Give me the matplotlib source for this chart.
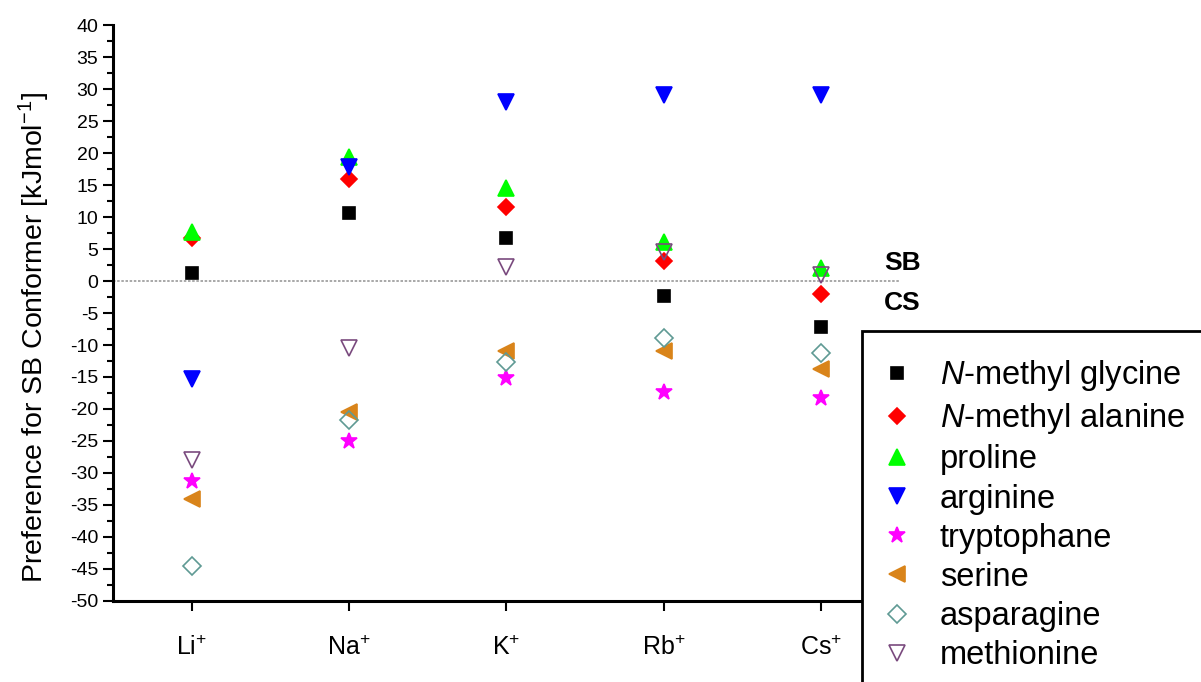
import numpy as np
import matplotlib
matplotlib.use("Agg")
import matplotlib.pyplot as plt
from matplotlib.patches import Rectangle
from matplotlib.ticker import MultipleLocator

plt.rcParams['font.family'] = ['Liberation Sans', 'DejaVu Sans']
plt.rcParams['mathtext.fontset'] = 'custom'
plt.rcParams['mathtext.rm'] = 'Liberation Sans'
plt.rcParams['mathtext.it'] = 'Liberation Sans:italic'
plt.rcParams['axes.unicode_minus'] = False

# cations on the x axis
cations = ["Li$^{+}$", "Na$^{+}$", "K$^{+}$", "Rb$^{+}$", "Cs$^{+}$"]

# preference for SB conformer, kJ/mol, one list per amino acid
n_methyl_glycine = [1.3, 10.7, 6.7, -2.4, -7.2]
n_methyl_alanine = [6.7, 15.9, 11.5, 3.1, -2.0]
proline = [7.6, 19.3, 14.6, 6.1, 2.0]
arginine = [-15.3, 17.8, 27.9, 29.1, 29.0]
tryptophane = [-31.2, -25.0, -15.2, -17.4, -18.3]
serine = [-34.0, -20.5, -11.0, -11.0, -13.7]
asparagine = [-44.6, -21.7, -12.7, -8.9, -11.3]
methionine = [-28.0, -10.5, 2.2, 4.6, 0.9]

x = np.arange(1, len(cations) + 1)

fig = plt.figure(figsize=(12.01, 6.82), dpi=100)
ax = fig.add_axes([0.094, 0.1188, 0.655, 0.8445])

ax.axhline(0, color="#9a9a9a", lw=1.2, ls=(0, (1.5, 1)), zorder=1)

# name, data, marker, size, face, edge
series = [
    ("$N$-methyl glycine", n_methyl_glycine, "s", 8.5, "black", "black"),
    ("$N$-methyl alanine", n_methyl_alanine, "D", 8.5, "#ff0000", "#ff0000"),
    ("proline", proline, "^", 11, "#00ff00", "#00ff00"),
    ("arginine", arginine, "v", 11, "#0000ff", "#0000ff"),
    ("tryptophane", tryptophane, "*", 12, "#ff00ff", "#ff00ff"),
    ("serine", serine, "<", 11, "#d9841a", "#d9841a"),
    ("asparagine", asparagine, "D", 9, "none", "#5f9a94"),
    ("methionine", methionine, "v", 11, "none", "#7a4a7e"),
]

handles = []
for name, vals, mk, ms, fc, ec in series:
    h, = ax.plot(x, vals, ls="none", marker=mk, ms=ms, mfc=fc, mec=ec,
                 mew=1.2, label=name, zorder=3)
    handles.append(h)

ax.set_xlim(0.5, 5.5)
ax.set_ylim(-50, 40)
ax.set_xticks(x)
ax.set_xticklabels(cations, fontsize=18)
ax.yaxis.set_major_locator(MultipleLocator(5))
ax.yaxis.set_minor_locator(MultipleLocator(2.5))
ax.tick_params(axis="y", labelsize=14, direction="out", length=7, width=1.5)
ax.tick_params(axis="y", which="minor", direction="out", length=4, width=1.5)
ax.tick_params(axis="x", direction="out", length=7, width=1.5, pad=18)
ax.spines["top"].set_visible(False)
ax.spines["right"].set_visible(False)
ax.spines["left"].set_linewidth(2.2)
ax.spines["bottom"].set_linewidth(2.2)
ax.set_ylabel("Preference for SB Conformer [kJmol$^{-1}$]", fontsize=20.5)
ax.yaxis.set_label_coords(-0.078, 0.458)

fig.text(884 / 1201, 1 - 263 / 682, "SB", fontsize=19, fontweight="bold", va="center")
fig.text(884 / 1201, 1 - 303 / 682, "CS", fontsize=19, fontweight="bold", va="center")

# legend box running off the bottom and right edges of the figure
box = Rectangle((862 / 1201, -0.05), 0.4, 1 - 331 / 682 + 0.05,
                transform=fig.transFigure, facecolor="white", edgecolor="black",
                lw=2, zorder=5)
fig.patches.append(box)

leg = fig.legend(handles=handles, loc="upper left",
                 bbox_to_anchor=(868 / 1201, 1 - 345 / 682), frameon=False,
                 fontsize=23.5, labelspacing=0.25, handlelength=1.0,
                 handletextpad=0.8, borderaxespad=0)
leg.set_zorder(6)

fig.savefig("out.png", dpi=100)
